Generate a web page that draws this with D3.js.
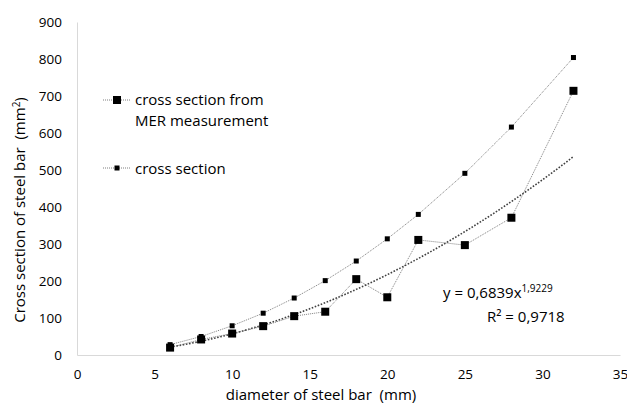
<!DOCTYPE html>
<html>
<head>
<meta charset="utf-8">
<script src="https://cdn.jsdelivr.net/npm/d3@7"></script>
<style>
body { margin:0; background:#fff; }
svg text { font-family: "Open Sans", "Liberation Sans", sans-serif; fill:#000; white-space: pre; }
</style>
</head>
<body>
<svg id="chart" width="627" height="405"></svg>
<script>
// diameters (mm)
var diameters = [6, 8, 10, 12, 14, 16, 18, 20, 22, 25, 28, 32];
// nominal cross section (mm2)
var crossSection = [28, 50, 79, 113, 154, 201, 254, 314, 380, 491, 616, 804];
// cross section from MER measurement (mm2)
var merSection = [20, 42, 58, 78, 105, 117, 205, 156, 311, 297, 371, 714];
// power trendline shown on chart: y = a * x^b
var trendA = 0.6839;
var trendB = 1.9229;
var xTicks = [0, 5, 10, 15, 20, 25, 30, 35];
var yTicks = [0, 100, 200, 300, 400, 500, 600, 700, 800, 900];

var svg = d3.select("#chart");
var x = d3.scaleLinear().domain([0, 35]).range([77, 620]);
var y = d3.scaleLinear().domain([0, 900]).range([355, 22]);

// axes
var xAxis = svg.append("g").attr("transform", "translate(0,355)")
	.call(d3.axisBottom(x).tickValues(xTicks).tickSize(0).tickPadding(14));
xAxis.select(".domain").attr("stroke", "#d9d9d9");
xAxis.selectAll("text").attr("font-size", 13.5).style("font-family", null);

var yAxis = svg.append("g").attr("transform", "translate(77,0)")
	.call(d3.axisLeft(y).tickValues(yTicks).tickSize(0).tickPadding(15));
yAxis.select(".domain").attr("stroke", "#d9d9d9");
yAxis.selectAll("text").attr("font-size", 13.5).style("font-family", null);

// axis titles
svg.append("text").attr("x", 321).attr("y", 400).attr("text-anchor", "middle")
	.attr("font-size", 15).text("diameter of steel bar  (mm)");
var yt = svg.append("text").attr("transform", "translate(25,210) rotate(-90)")
	.attr("text-anchor", "middle").attr("font-size", 15);
yt.append("tspan").text("Cross section of steel bar  (mm");
yt.append("tspan").attr("font-size", 10).attr("dy", -5).text("2");
yt.append("tspan").attr("dy", 5).text(")");

var line = d3.line().x(function(d) { return x(d[0]); }).y(function(d) { return y(d[1]); });

// trendline (from the displayed equation)
var trendPts = [];
for (var t = 6; t <= 32.001; t += 0.5) {
	trendPts.push([t, trendA * Math.pow(t, trendB)]);
}
svg.append("path").attr("d", line(trendPts)).attr("fill", "none")
	.attr("stroke", "#404040").attr("stroke-width", 1.6).attr("stroke-dasharray", "1.6,1.6");

// series lines
svg.append("path").attr("d", line(d3.zip(diameters, crossSection))).attr("fill", "none")
	.attr("stroke", "#7f7f7f").attr("stroke-width", 1).attr("stroke-dasharray", "1,1");
svg.append("path").attr("d", line(d3.zip(diameters, merSection))).attr("fill", "none")
	.attr("stroke", "#7f7f7f").attr("stroke-width", 1).attr("stroke-dasharray", "1,1");

// markers
svg.append("g").selectAll("rect").data(d3.zip(diameters, crossSection)).enter()
	.append("rect")
	.attr("x", function(d) { return x(d[0]) - 2.5; })
	.attr("y", function(d) { return y(d[1]) - 2.5; })
	.attr("width", 5).attr("height", 5).attr("fill", "#000");
svg.append("g").selectAll("rect").data(d3.zip(diameters, merSection)).enter()
	.append("rect")
	.attr("x", function(d) { return x(d[0]) - 4; })
	.attr("y", function(d) { return y(d[1]) - 4; })
	.attr("width", 8).attr("height", 8).attr("fill", "#000");

// legend
var lg = svg.append("g");
lg.append("line").attr("x1", 103).attr("x2", 131).attr("y1", 100).attr("y2", 100)
	.attr("stroke", "#7f7f7f").attr("stroke-dasharray", "1,1");
lg.append("rect").attr("x", 113).attr("y", 96).attr("width", 8).attr("height", 8).attr("fill", "#000");
lg.append("text").attr("x", 135).attr("y", 105).attr("font-size", 15).text("cross section from");
lg.append("text").attr("x", 135).attr("y", 126).attr("font-size", 15).text("MER measurement");
lg.append("line").attr("x1", 103).attr("x2", 131).attr("y1", 168).attr("y2", 168)
	.attr("stroke", "#7f7f7f").attr("stroke-dasharray", "1,1");
lg.append("rect").attr("x", 114.5).attr("y", 165.5).attr("width", 5).attr("height", 5).attr("fill", "#000");
lg.append("text").attr("x", 135).attr("y", 174).attr("font-size", 15).text("cross section");

// equation label
var eq = svg.append("text").attr("x", 443).attr("y", 298).attr("font-size", 15);
eq.append("tspan").text("y = 0,6839x");
eq.append("tspan").attr("font-size", 10).attr("dy", -6).text("1,9229");
svg.append("text").attr("x", 487).attr("y", 322).attr("font-size", 15).text("R² = 0,9718");
</script>
</body>
</html>
